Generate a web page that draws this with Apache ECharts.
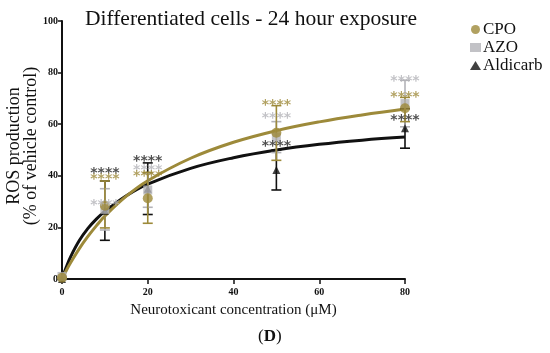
<!DOCTYPE html>
<html><head><meta charset="utf-8">
<script src="https://cdn.jsdelivr.net/npm/echarts@6/dist/echarts.min.js"></script>
<style>html,body{margin:0;padding:0;background:#fff}#c{width:550px;height:353px}</style>
</head><body><div id="c"></div>
<script>
// ---- data ----
var doses = [0, 10, 20, 50, 80];
var cpoMean = [0.5, 28.4, 31.3, 56.7, 66.2];
var cpoLow  = [0.5, 19.8, 21.6, 46.0, 61.0];
var cpoHigh = [0.5, 38.0, 41.3, 67.2, 70.4];
var azoMean = [1.0, 27.0, 34.5, 55.0, 68.0];
var azoLow  = [1.0, 19.0, 27.8, 49.0, 59.0];
var azoHigh = [1.0, 35.0, 41.0, 61.0, 77.0];
var aldMean = [0.0, 26.5, 35.0, 42.2, 58.4];
var aldLow  = [0.0, 15.0, 25.0, 34.5, 50.7];
var aldHigh = [0.0, 38.0, 45.0, 50.0, 66.0];
// fitted curves
var curveX    = [0, 1, 2, 4, 6, 8, 10, 15, 20, 30, 40, 50, 60, 70, 80];
var cpoCurve  = [0, 3.3, 6.3, 11.7, 16.4, 20.6, 24.4, 32.1, 38.1, 46.8, 53.0, 57.5, 60.9, 63.6, 65.9];
var aldCurve  = [0, 4.6, 8.6, 14.8, 19.5, 23.2, 26.2, 32.3, 36.8, 42.9, 47.0, 50.0, 52.2, 53.8, 55.0];
// significance marks (x, y of label)
var starX   = [10, 20, 50, 80];
var cpoStarY = [40.3, 41.3, 69.0, 71.8];
var azoStarY = [30.2, 43.8, 63.8, 78.0];
var aldStarY = [42.6, 47.0, 53.0, 62.9];
var starText = '****';
var xTicks = [0, 20, 40, 60, 80];
var yTicks = [0, 20, 40, 60, 80, 100];
var yNameLines = ['ROS production', '(% of vehicle control)'];

var GOLD = '#9d8a3a', GREY = '#b3b3b8', BLACK = '#111111';
var SERIF = '"Liberation Serif","Times New Roman",serif';

function zip(a, b) { return a.map(function (v, i) { return [v, b[i]]; }); }
function errData(lo, hi) { return doses.map(function (d, i) { return [d, lo[i], hi[i]]; }); }
function errRender(color) {
  return function (params, api) {
    var x = api.value(0), lo = api.value(1), hi = api.value(2);
    var p1 = api.coord([x, lo]), p2 = api.coord([x, hi]);
    var w = 5;
    var st = { stroke: color, lineWidth: 1.6 };
    return { type: 'group', children: [
      { type: 'line', shape: { x1: p1[0], y1: p1[1], x2: p2[0], y2: p2[1] }, style: st },
      { type: 'line', shape: { x1: p1[0] - w, y1: p1[1], x2: p1[0] + w, y2: p1[1] }, style: st },
      { type: 'line', shape: { x1: p2[0] - w, y1: p2[1], x2: p2[0] + w, y2: p2[1] }, style: st }
    ] };
  };
}
function starSeries(name, ys, color) {
  return {
    name: name, type: 'scatter', data: zip(starX, ys), symbolSize: 0, z: 6,
    silent: true,
    label: { show: true, position: 'inside', formatter: starText, color: color,
      fontFamily: '"DejaVu Sans",sans-serif', fontSize: 14, fontWeight: 'bold', offset: [0, 4] }
  };
}
function vText(txt, x, y) {
  return { type: 'text', x: x, y: y, rotation: Math.PI / 2,
    style: { text: txt, fontFamily: SERIF, fontSize: 18, fill: '#111', align: 'center', verticalAlign: 'middle' } };
}

var chart = echarts.init(document.getElementById('c'), null, { renderer: 'canvas' });
chart.setOption({
  animation: false,
  backgroundColor: '#fff',
  title: {
    text: 'Differentiated cells - 24 hour exposure', left: 246, top: 3, textAlign: 'center',
    textStyle: { fontFamily: SERIF, fontSize: 21.5, fontWeight: 'normal', color: '#111' }
  },
  legend: {
    orient: 'vertical', left: 465, top: 16, itemGap: 1, itemWidth: 11, itemHeight: 9,
    textStyle: { fontFamily: SERIF, fontSize: 17, color: '#111', padding: [0, 0, 0, -3] },
    data: [
      { name: 'CPO', icon: 'circle', itemStyle: { color: GOLD } },
      { name: 'AZO', icon: 'rect', itemStyle: { color: GREY } },
      { name: 'Aldicarb', icon: 'triangle', itemStyle: { color: BLACK } }
    ]
  },
  grid: { left: 62, right: 145, top: 21, bottom: 74, containLabel: false, outerBoundsMode: 'none' },
  xAxis: {
    type: 'value', min: 0, max: 80, interval: 20,
    name: 'Neurotoxicant concentration (μM)', nameLocation: 'middle', nameGap: 24,
    nameTextStyle: { fontFamily: SERIF, fontSize: 15, color: '#111' },
    axisLine: { lineStyle: { color: '#111', width: 2 } },
    axisTick: { show: true, length: 5, lineStyle: { color: '#111', width: 1.5 } },
    axisLabel: { fontFamily: SERIF, fontSize: 10, fontWeight: 'bold', color: '#111', margin: 8,
      formatter: function (v) { return xTicks.indexOf(v) >= 0 ? String(v) : ''; } },
    splitLine: { show: false }
  },
  yAxis: {
    type: 'value', min: 0, max: 100, interval: 20,
    axisLine: { show: true, lineStyle: { color: '#111', width: 2 } },
    axisTick: { show: true, length: 4, lineStyle: { color: '#111', width: 1.5 } },
    axisLabel: { fontFamily: SERIF, fontSize: 10, fontWeight: 'bold', color: '#111', margin: 4,
      formatter: function (v) { return yTicks.indexOf(v) >= 0 ? String(v) : ''; } },
    splitLine: { show: false }
  },
  graphic: [
    vText(yNameLines[0], 14, 146),
    vText(yNameLines[1], 31, 146),
    {
      type: 'text', left: 258, top: 328,
      style: { rich: { a: { fontFamily: SERIF, fontSize: 17, fill: '#111' }, b: { fontFamily: SERIF, fontSize: 17, fontWeight: 'bold', fill: '#111' } },
        text: '{a|(}{b|D}{a|)}' }
    }
  ],
  series: [
    { name: 'cpoFit', type: 'line', data: zip(curveX, cpoCurve), smooth: 0.4, symbol: 'none',
      lineStyle: { color: GOLD, width: 3 }, z: 2, silent: true },
    { name: 'aldFit', type: 'line', data: zip(curveX, aldCurve), smooth: 0.4, symbol: 'none',
      lineStyle: { color: BLACK, width: 3 }, z: 1, silent: true },
    { name: 'aldErr', type: 'custom', data: errData(aldLow, aldHigh), renderItem: errRender(BLACK), z: 3, silent: true },
    { name: 'azoErr', type: 'custom', data: errData(azoLow, azoHigh), renderItem: errRender(GREY), z: 3, silent: true },
    { name: 'cpoErr', type: 'custom', data: errData(cpoLow, cpoHigh), renderItem: errRender(GOLD), z: 3, silent: true },
    { name: 'Aldicarb', type: 'scatter', data: zip(doses, aldMean), symbol: 'triangle', symbolSize: 8,
      itemStyle: { color: BLACK }, z: 4 },
    { name: 'AZO', type: 'scatter', data: zip(doses, azoMean), symbol: 'rect', symbolSize: 9,
      itemStyle: { color: GREY }, z: 4 },
    { name: 'CPO', type: 'scatter', data: zip(doses, cpoMean), symbol: 'circle', symbolSize: 10,
      itemStyle: { color: GOLD }, z: 5 },
    starSeries('aldStars', aldStarY, '#222'),
    starSeries('azoStars', azoStarY, GREY),
    starSeries('cpoStars', cpoStarY, GOLD)
  ]
});
</script></body></html>
